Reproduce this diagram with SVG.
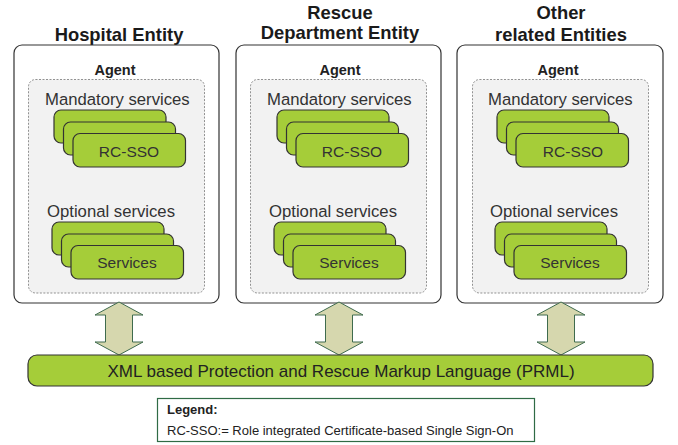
<svg xmlns="http://www.w3.org/2000/svg" width="678" height="445" viewBox="0 0 678 445">
  <defs>
    <style>
      .entity { fill: #ffffff; stroke: #333333; stroke-width: 1.2; }
      .agent { fill: #f2f2f2; stroke: #777777; stroke-width: 0.8; stroke-dasharray: 2 1.5; }
      .card { fill: #a5cd39; stroke: #333333; stroke-width: 1.2; }
      .arrow { fill: #d6d7ae; stroke: #3f6b4e; stroke-width: 1; }
      .bar { fill: #a5cd39; stroke: #333333; stroke-width: 1.2; }
      .legend { fill: #ffffff; stroke: #2f6b45; stroke-width: 1.2; }
      .title { font-family: "Liberation Sans", Arial, sans-serif; font-weight: bold; font-size: 18.4px; fill: #1a1a1a; text-anchor: middle; }
      .agentlbl { font-family: "Liberation Sans", Arial, sans-serif; font-weight: bold; font-size: 14.5px; fill: #222222; text-anchor: middle; }
      .group { font-family: "Liberation Sans", Arial, sans-serif; font-size: 16.7px; fill: #333333; }
      .cardlbl { font-family: "Liberation Sans", Arial, sans-serif; font-size: 15.5px; fill: #333333; text-anchor: middle; }
      .barlbl { font-family: "Liberation Sans", Arial, sans-serif; font-size: 17px; fill: #222222; text-anchor: middle; }
      .leg { font-family: "Liberation Sans", Arial, sans-serif; font-size: 13px; fill: #222222; }
    </style>
    <!-- one stack of three service cards, origin at the back card's top-left -->
    <g id="stack">
      <rect class="card" x="0" y="0" width="112" height="33" rx="7"/>
      <rect class="card" x="9.5" y="12" width="112" height="33" rx="7"/>
      <rect class="card" x="19" y="23.5" width="112.5" height="33.5" rx="7"/>
    </g>
    <!-- double-headed vertical arrow, centred on x=0 -->
    <path id="dblarrow" class="arrow" d="M0,302 L24,315 L13.5,315 L13.5,342 L24,342 L0,355 L-24,342 L-13.5,342 L-13.5,315 L-24,315 Z"/>
  </defs>

  <!-- Entity 1 -->
  <g id="hospital-entity">
    <text class="title" x="119" y="41">Hospital Entity</text>
    <rect class="entity" x="14" y="45" width="205" height="258" rx="8"/>
    <text class="agentlbl" x="115" y="75">Agent</text>
    <rect class="agent" x="28.5" y="79.5" width="176" height="213.5" rx="7"/>
    <text class="group" x="45" y="105">Mandatory services</text>
    <use href="#stack" x="54" y="110"/>
    <text class="cardlbl" x="129" y="157">RC-SSO</text>
    <text class="group" x="47" y="217">Optional services</text>
    <use href="#stack" x="52" y="222"/>
    <text class="cardlbl" x="127" y="268">Services</text>
  </g>

  <!-- Entity 2 -->
  <g id="rescue-entity">
    <text class="title" x="340" y="19">Rescue</text>
    <text class="title" x="340" y="39">Department Entity</text>
    <rect class="entity" x="236" y="45" width="205" height="258" rx="8"/>
    <text class="agentlbl" x="340" y="75">Agent</text>
    <rect class="agent" x="250.5" y="79.5" width="176" height="213.5" rx="7"/>
    <text class="group" x="267" y="105">Mandatory services</text>
    <use href="#stack" x="277" y="110"/>
    <text class="cardlbl" x="352" y="157">RC-SSO</text>
    <text class="group" x="269" y="217">Optional services</text>
    <use href="#stack" x="274" y="222"/>
    <text class="cardlbl" x="349" y="268">Services</text>
  </g>

  <!-- Entity 3 -->
  <g id="other-entities">
    <text class="title" x="561" y="19">Other</text>
    <text class="title" x="561" y="41">related Entities</text>
    <rect class="entity" x="457" y="45" width="206" height="258" rx="8"/>
    <text class="agentlbl" x="558" y="75">Agent</text>
    <rect class="agent" x="472.5" y="79.5" width="176" height="213.5" rx="7"/>
    <text class="group" x="488" y="105">Mandatory services</text>
    <use href="#stack" x="497" y="110"/>
    <text class="cardlbl" x="573" y="157">RC-SSO</text>
    <text class="group" x="490" y="217">Optional services</text>
    <use href="#stack" x="495" y="222"/>
    <text class="cardlbl" x="570" y="268">Services</text>
  </g>

  <!-- Links between entities and the shared markup language -->
  <g id="connectors">
    <use href="#dblarrow" x="119"/>
    <use href="#dblarrow" x="339"/>
    <use href="#dblarrow" x="561"/>
  </g>

  <!-- Shared markup language bar -->
  <g id="prml">
    <rect class="bar" x="28" y="355" width="625" height="31" rx="9"/>
    <text class="barlbl" x="341" y="377">XML based Protection and Rescue Markup Language (PRML)</text>
  </g>

  <!-- Legend -->
  <g id="legend">
    <rect class="legend" x="157.5" y="398.5" width="377" height="43"/>
    <text class="leg" x="167" y="414" font-weight="bold">Legend:</text>
    <text class="leg" x="167" y="435">RC-SSO:= Role integrated Certificate-based Single Sign-On</text>
  </g>
</svg>
